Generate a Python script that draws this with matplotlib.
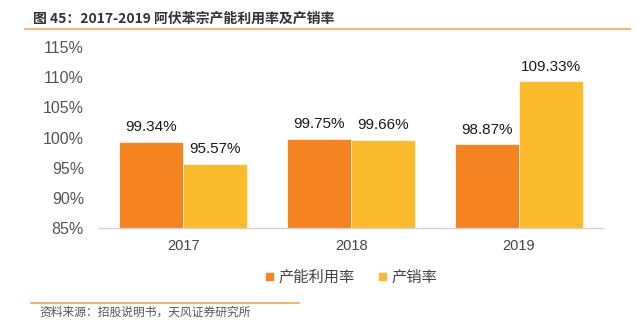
import numpy as np
import matplotlib.pyplot as plt

plt.rcParams['font.family'] = ['Liberation Sans', 'Noto Sans CJK SC', 'DejaVu Sans']

years = ["2017", "2018", "2019"]
capacity_util = [99.34, 99.75, 98.87]
sales_rate = [95.57, 99.66, 109.33]
series_names = ["产能利用率", "产销率"]
yticks = [85, 90, 95, 100, 105, 110, 115]

orange = "#F5831F"
yellow = "#FBBB2C"
cjk = ['Noto Sans CJK SC', 'DejaVu Sans']

fig = plt.figure(figsize=(6.36, 3.32), dpi=100)
ax = fig.add_axes([0.156, 0.313, 0.792, 0.545])

x = np.arange(len(years))
w = 0.38
ax.bar(x - w / 2, np.array(capacity_util) - 85, w, bottom=85, color=orange,
       edgecolor="white", linewidth=0.5, label=series_names[0])
ax.bar(x + w / 2, np.array(sales_rate) - 85, w, bottom=85, color=yellow,
       edgecolor="white", linewidth=0.5, label=series_names[1])

for xs, vals in ((x - w / 2, capacity_util), (x + w / 2, sales_rate)):
    for xi, v in zip(xs, vals):
        ax.text(xi, v + 1.3, f"{v:.2f}%", ha="center", va="bottom",
                fontsize=11, color="#1a1a1a")

ax.set_xlim(-0.5, 2.5)
ax.set_ylim(85, 115)
ax.set_yticks(yticks)
ax.set_yticklabels([f"{t}%" for t in yticks], fontsize=11.5, color="#555555")
ax.set_xticks(x)
ax.set_xticklabels(years, fontsize=10.5, color="#444444")
ax.tick_params(axis="x", length=0, pad=8)
ax.tick_params(axis="y", length=0, pad=11)
for s in ("top", "right", "left"):
    ax.spines[s].set_visible(False)
ax.spines["bottom"].set_color("#d0d0d0")
ax.spines["bottom"].set_linewidth(1)

leg = ax.legend(loc="upper center", bbox_to_anchor=(0.5, -0.15), ncol=2,
                frameon=False, handlelength=0.6, handleheight=0.6,
                handletextpad=0.3, columnspacing=1.5,
                prop={"family": cjk, "size": 11})
for t in leg.get_texts():
    t.set_color("#444444")

fig.text(0.052, 0.945, "图 45：2017-2019 阿伏苯宗产能利用率及产销率", fontsize=10,
         family=cjk, color="#333333", fontweight="bold", va="center")
fig.add_artist(plt.Line2D([0.039, 0.99], [0.912, 0.912], color="#F7A355", linewidth=1.2))
fig.add_artist(plt.Line2D([0.048, 0.47], [0.087, 0.087], color="#F7A355", linewidth=1.2))
fig.text(0.062, 0.06, "资料来源：招股说明书，天风证券研究所", fontsize=8.5,
         family=cjk, color="#555555", va="center")

fig.savefig("out.png", dpi=100)
